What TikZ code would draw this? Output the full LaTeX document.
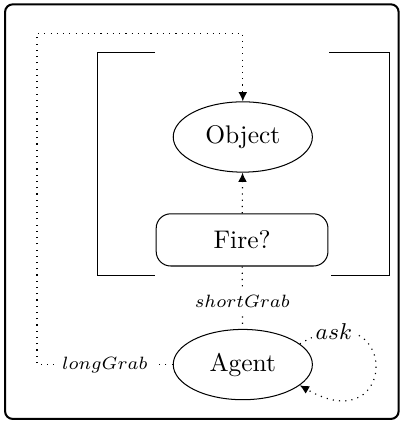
\documentclass[tikz,border=0pt]{standalone}
\usetikzlibrary{arrows.meta}
\usetikzlibrary{shapes.geometric}

\begin{document}
\begin{tikzpicture}[>={Latex[length=3.6pt,width=3.4pt]},
lbl/.style={fill=white, inner sep=3pt, font=\scriptsize}]
\tikzstyle{state} = [ellipse, draw, minimum width=1.92cm, minimum height=0.97cm]
\tikzstyle{test} = [rectangle, draw, rounded corners=0.2cm, minimum width=2.37cm, minimum height=0.72cm]
\tikzstyle{flow} = [dotted, line width=0.45pt]

\useasboundingbox (0,0) rectangle (5.53,5.85);
\draw[thick, rounded corners=3pt] (0.07,0.07) rectangle (5.50,5.79);

\node[state] (object) at (3.35,3.96) {Object};
\node[test] (fire) at (3.34,2.54) {Fire?};
\node[state] (agent) at (3.35,0.82) {Agent};

% open brackets left and right of the test
\draw (2.14,5.12) -- (1.34,5.12) -- (1.34,2.05) -- (2.14,2.05);
\draw (4.54,5.12) -- (5.38,5.12) -- (5.38,2.05) -- (4.56,2.05);

\draw[flow,->] (fire) -- (object);
\draw[flow] (fire) -- node[lbl, pos=0.55] {$shortGrab$} (agent);

% long way round to the object
\coordinate (lowcorner) at (0.51,0.82);
\coordinate (topcorner) at (0.51,5.39);
\draw[flow,->] (agent) -- node[lbl] {$longGrab$} (lowcorner) -- (topcorner) -| (object);

\draw[flow,->] (agent.20) to[out=30, in=-30, distance=1.6cm]
node[lbl, inner sep=1.5pt, pos=0.13, font=\small] {$ask$} (agent.-20);

\end{tikzpicture}
\end{document}
